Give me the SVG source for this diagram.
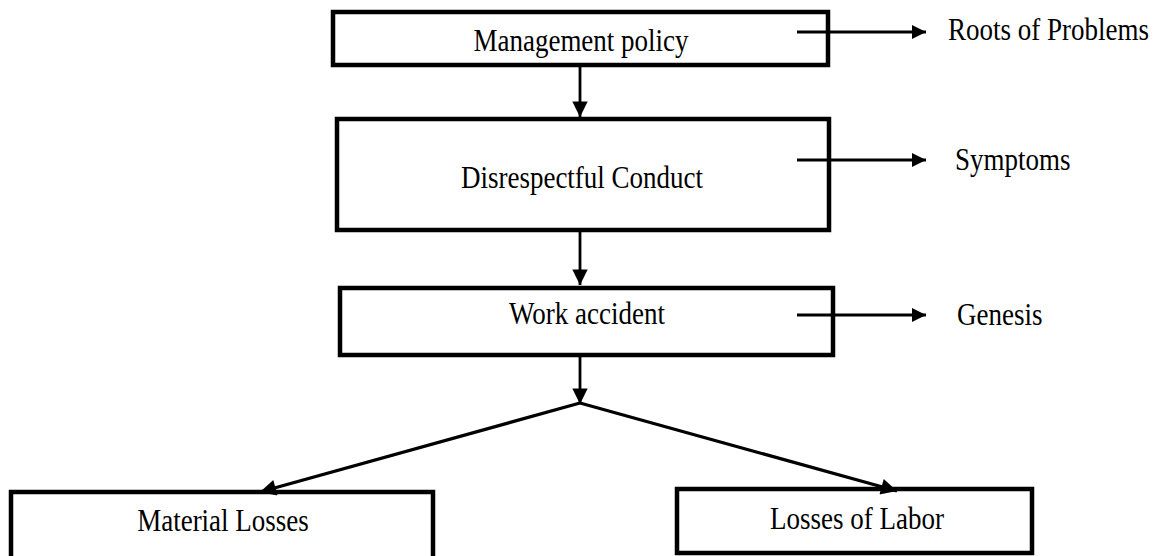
<svg xmlns="http://www.w3.org/2000/svg" width="1157" height="556" viewBox="0 0 1157 556">
<style>
.box{fill:#fff;stroke:#000;stroke-width:4.5}
.lbl{font-family:"Liberation Serif","Times New Roman",serif;font-size:27px;fill:#000}
.ln{stroke:#000;stroke-width:2.8;fill:none}
.dg{stroke:#000;stroke-width:3.2;fill:none}
</style>
<defs>
<marker id="ah" viewBox="0 0 10 10" refX="10" refY="5" markerWidth="5.5" markerHeight="5" markerUnits="strokeWidth" orient="auto">
<path d="M0,0 L10,5 L0,10 z" fill="#000"/>
</marker>
<marker id="ahv" viewBox="0 0 10 10" refX="10" refY="5" markerWidth="6.5" markerHeight="5.5" markerUnits="strokeWidth" orient="auto">
<path d="M0,0 L10,5 L0,10 z" fill="#000"/>
</marker>
</defs>
<g id="n1"><rect class="box" x="333" y="12" width="495" height="53"/><text class="lbl" transform="translate(581,51) scale(1,1.14)" text-anchor="middle">Management policy</text></g>
<g id="n2"><rect class="box" x="337" y="119" width="492" height="111"/><text class="lbl" transform="translate(582,188) scale(1,1.14)" text-anchor="middle">Disrespectful Conduct</text></g>
<g id="n3"><rect class="box" x="340" y="288" width="493" height="67"/><text class="lbl" transform="translate(587,324) scale(1,1.14)" text-anchor="middle">Work accident</text></g>
<g id="n4"><rect class="box" x="11" y="492" width="422" height="80"/><text class="lbl" transform="translate(223,531) scale(1,1.14)" text-anchor="middle">Material Losses</text></g>
<g id="n5"><rect class="box" x="677" y="489" width="355" height="64"/><text class="lbl" transform="translate(857,529) scale(1,1.14)" text-anchor="middle">Losses of Labor</text></g>
<g id="l1"><text class="lbl" transform="translate(948,40) scale(1,1.14)">Roots of Problems</text></g>
<g id="l2"><text class="lbl" transform="translate(955,170) scale(1,1.14)">Symptoms</text></g>
<g id="l3"><text class="lbl" transform="translate(957,325) scale(1,1.14)">Genesis</text></g>
<g id="connectors">
<line class="ln" x1="580" y1="65" x2="580" y2="117" marker-end="url(#ahv)"/>
<line class="ln" x1="580" y1="230" x2="580" y2="285" marker-end="url(#ahv)"/>
<line class="ln" x1="580" y1="355" x2="580" y2="404" marker-end="url(#ahv)"/>
<line class="ln" x1="797" y1="32" x2="926" y2="32" marker-end="url(#ah)"/>
<line class="ln" x1="797" y1="160" x2="926" y2="160" marker-end="url(#ah)"/>
<line class="ln" x1="797" y1="315" x2="926" y2="315" marker-end="url(#ah)"/>
<line class="dg" x1="580" y1="403" x2="260" y2="492" marker-end="url(#ah)"/>
<line class="dg" x1="580" y1="403" x2="897" y2="491" marker-end="url(#ah)"/>
</g>
</svg>
